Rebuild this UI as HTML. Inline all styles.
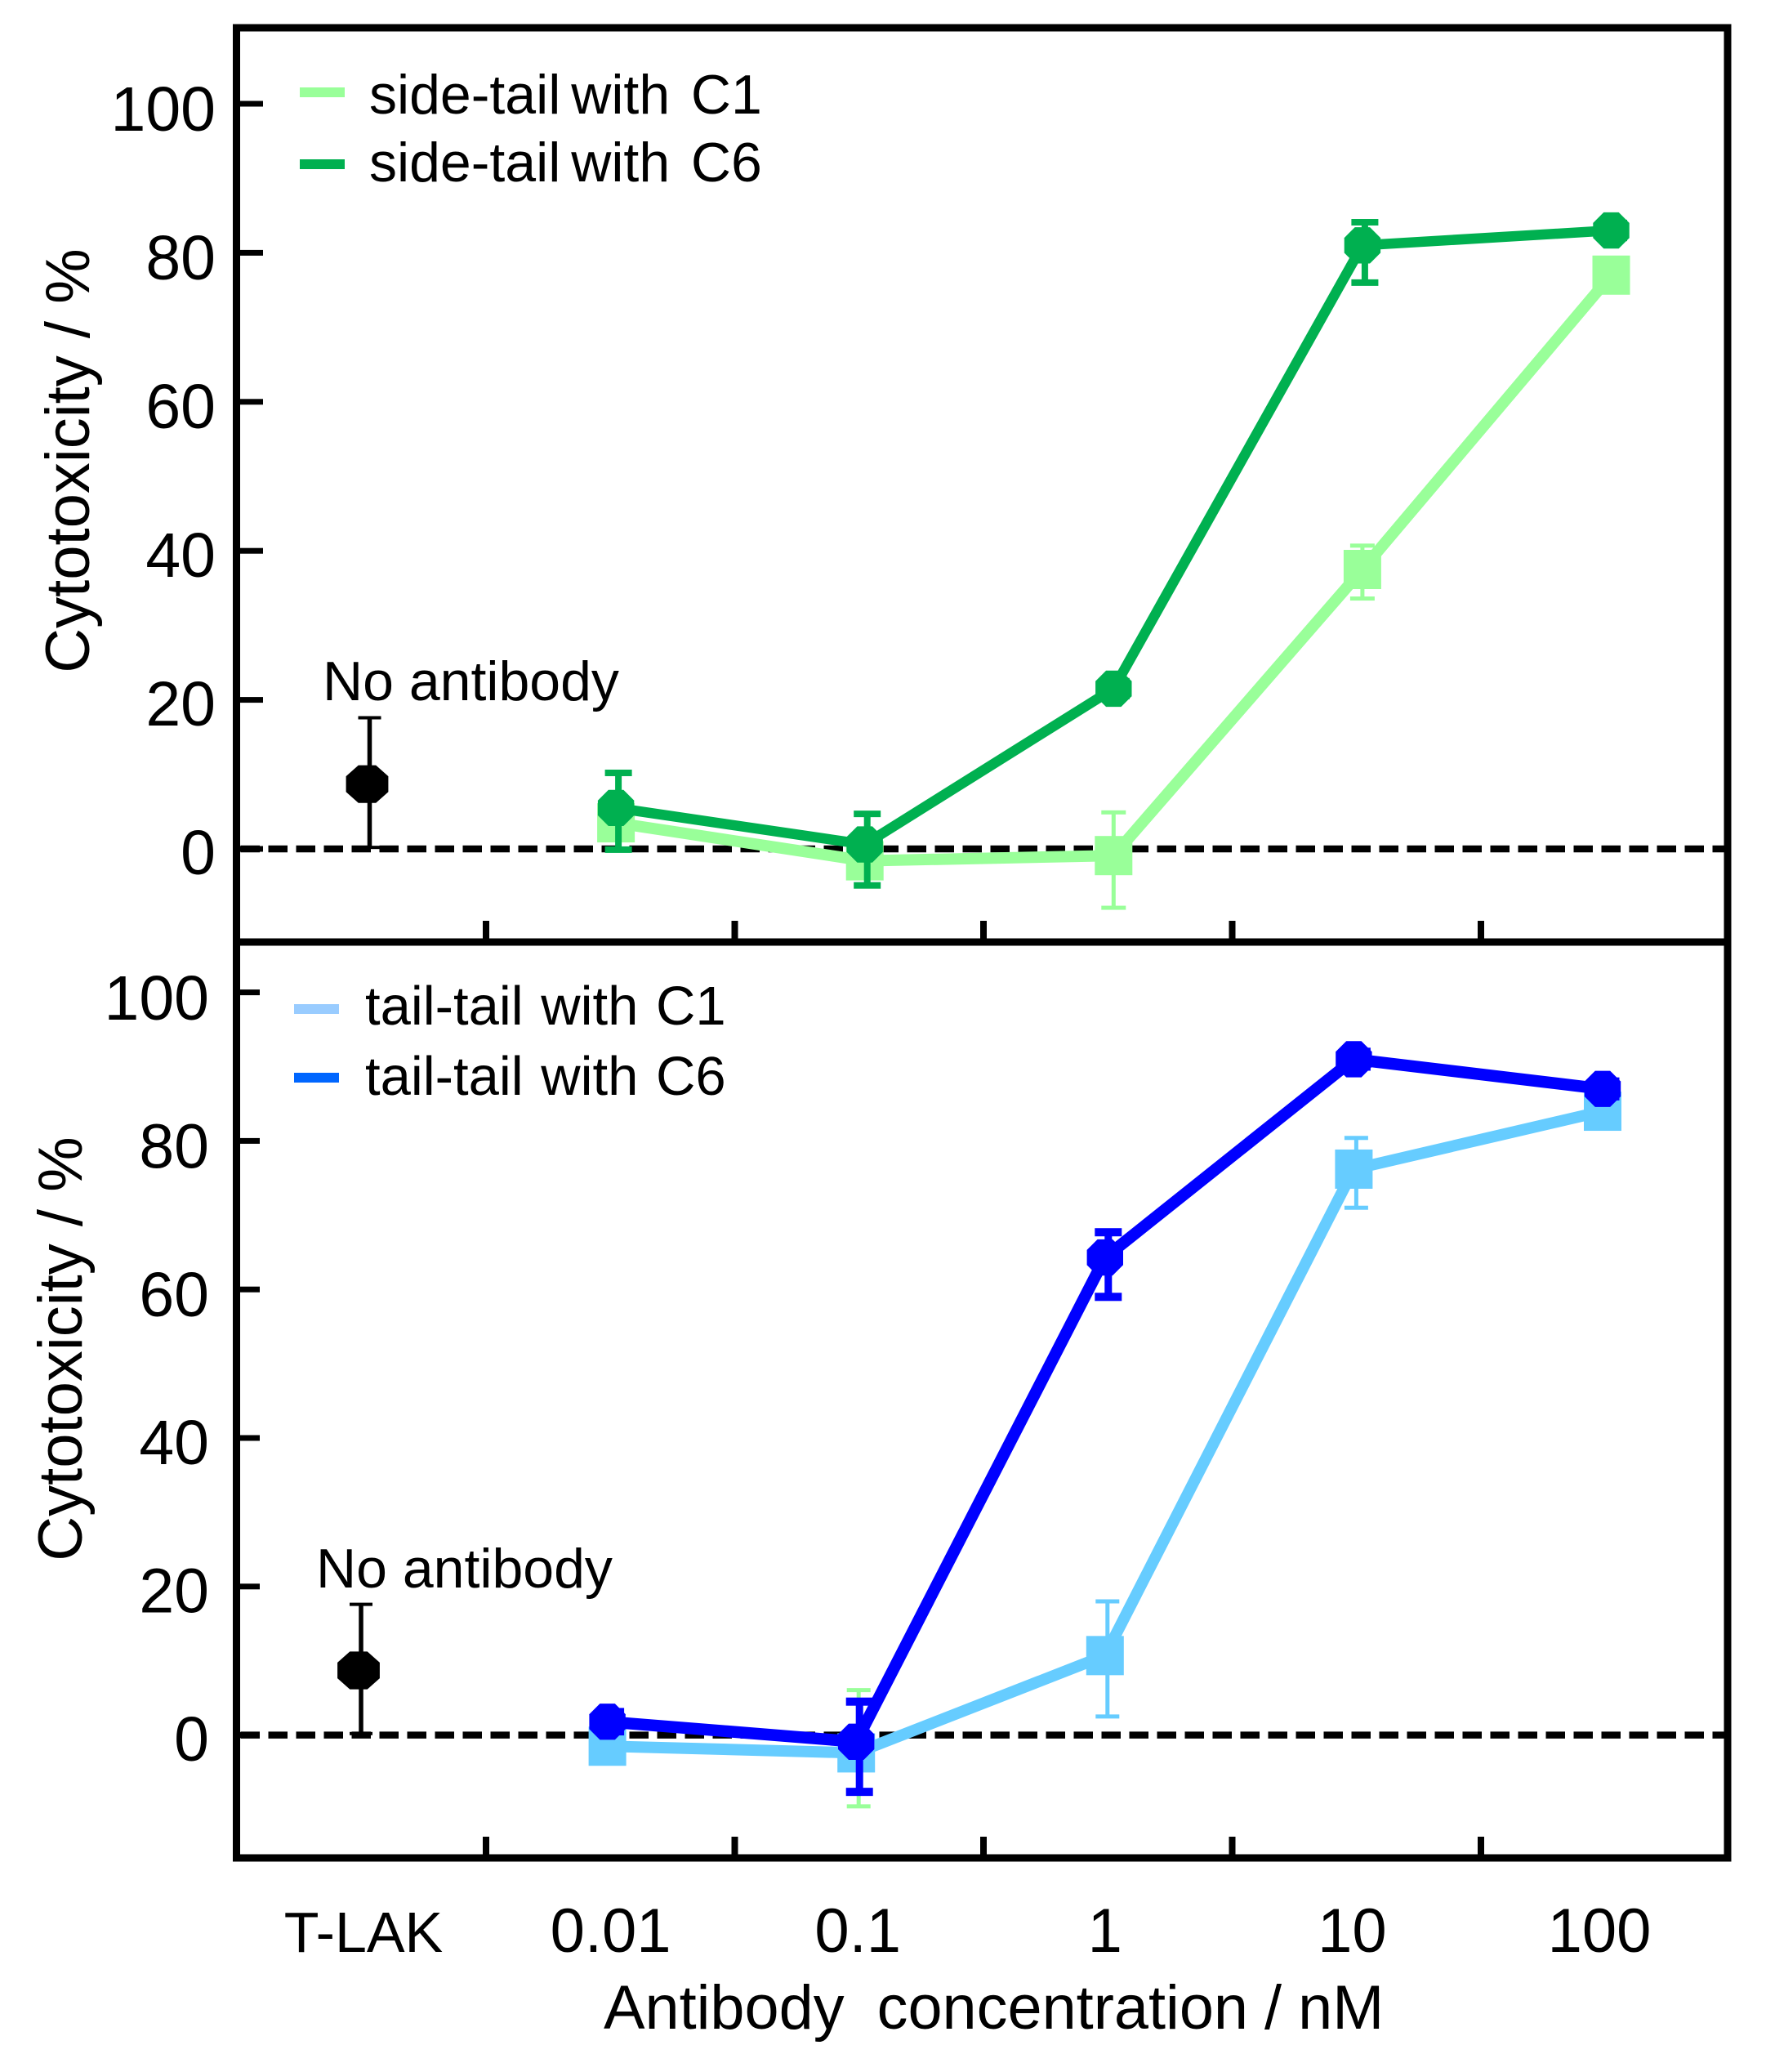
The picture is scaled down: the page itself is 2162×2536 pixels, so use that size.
<!DOCTYPE html>
<html lang="en">
<head>
<meta charset="utf-8">
<title>Cytotoxicity vs antibody concentration</title>
<style>
html,body{margin:0;padding:0;background:#fff;}
svg{display:block;}
text{font-family:"Liberation Sans",Arial,sans-serif;fill:#000;white-space:pre;}
</style>
</head>
<body>
<svg id="chart" xmlns="http://www.w3.org/2000/svg" width="2162" height="2536" viewBox="0 0 2162 2536">
  <rect x="0" y="0" width="2162" height="2536" fill="#fff"/>
  <g id="top-panel"></g>
  <g id="bottom-panel"></g>

  <g>
    <rect x="367" y="107" width="55" height="12" fill="#99ff99"/>
    <text x="452" y="139" font-size="68" word-spacing="-6">side-tail with  C1</text>
  </g>
  <g>
    <rect x="367" y="195" width="55" height="12" fill="#00b050"/>
    <text x="452" y="222" font-size="68" word-spacing="-6">side-tail with  C6</text>
  </g>
  <g>
    <rect x="360" y="1229" width="55" height="12" fill="#99ccff"/>
    <text x="447" y="1254" font-size="67" word-spacing="3">tail-tail with C1</text>
  </g>
  <g>
    <rect x="360" y="1313" width="55" height="12" fill="#0066ff"/>
    <text x="447" y="1340" font-size="67" word-spacing="3">tail-tail with C6</text>
  </g>

  <text font-size="76" text-anchor="middle" transform="translate(109 564) rotate(-90)">Cytotoxicity / %</text>
  <text font-size="76" text-anchor="middle" transform="translate(100 1651) rotate(-90)">Cytotoxicity / %</text>
  <text x="395" y="857" font-size="68">No antibody</text>
  <text x="387" y="1943" font-size="68">No antibody</text>
  <text x="739" y="2483" font-size="75.7" word-spacing="-1">Antibody  concentration / nM</text>
</svg>

<script>
const categories = ['T-LAK', '0.01', '0.1', '1', '10', '100'];
const yTickValues = [100, 80, 60, 40, 20, 0];
const xMinorTicks = [0, 1, 2, 3, 4];

const noAntibodyValue = [8.7];
const noAntibodyUpper = [17.6];
const noAntibodyLower = [0.2];

const sideC1Values = [3.5, -1.6, -0.9, 37.5, 77];
const sideC1Upper = [5.5, 0.5, 4.9, 40.7, 78];
const sideC1Lower = [1.5, -3.5, -7.9, 33.6, 76];

const sideC6Values = [5.5, 0.6, 21.5, 81, 83];
const sideC6Upper = [10.2, 4.7, 22.5, 84.1, 84];
const sideC6Lower = [-0.1, -4.9, 20.5, 76, 82];

const tailC1Values = [-1.5, -2.4, 10.7, 76.2, 84];
const tailC1Upper = [-0.5, 6.05, 18, 80.4, 85];
const tailC1Lower = [-2.5, -9.6, 2.5, 71, 83];

const tailC6Values = [1.8, -0.9, 64.3, 91, 87];
const tailC6Upper = [3.1, 4.5, 67.7, 92, 88];
const tailC6Lower = [0.5, -7.65, 59, 90, 86];

const NS = 'http://www.w3.org/2000/svg';

function make(parent, tag, attrs) {
  const el = document.createElementNS(NS, tag);
  for (const k in attrs) el.setAttribute(k, attrs[k]);
  parent.appendChild(el);
  return el;
}

function octagon(cx, cy, rx, ry) {
  const pts = [];
  for (let i = 0; i < 8; i++) {
    const a = Math.PI / 8 + i * Math.PI / 4;
    pts.push((cx + rx * Math.cos(a)).toFixed(1) + ',' + (cy + ry * Math.sin(a)).toFixed(1));
  }
  return pts.join(' ');
}

function drawErrorBar(g, prefix, x, top, bottom, color, stem, capW, capH) {
  const v = make(g, 'rect', { x: x - stem / 2, y: top, width: stem, height: bottom - top, fill: color });
  
  
  const c1 = make(g, 'rect', { x: x - capW / 2, y: top - capH / 2, width: capW, height: capH, fill: color });
  
  
  const c2 = make(g, 'rect', { x: x - capW / 2, y: bottom - capH / 2, width: capW, height: capH, fill: color });
  
  
}

function drawSeries(g, P, name, values, upper, lower, opt) {
  const group = make(g, 'g', {});
  
  
  values.forEach(function (v, i) {
    const col = opt.errColors ? opt.errColors[i] : opt.color;
    drawErrorBar(group, name + '-' + categories[i + 1], P.x(i + 1) + opt.errDx, P.y(upper[i]), P.y(lower[i]), col, opt.stem, opt.capW, opt.capH);
  });
  const line = make(group, 'polyline', {
    points: values.map(function (v, i) { return P.x(i + 1) + ',' + P.y(v); }).join(' '),
    fill: 'none', stroke: opt.color, 'stroke-width': opt.width, 'stroke-linejoin': 'miter'
  });
  
  
  values.forEach(function (v, i) {
    const cx = P.x(i + 1);
    const cy = P.y(v);
    let m;
    if (opt.marker === 'square') {
      m = make(group, 'rect', { x: cx - 23, y: cy - 24, width: 46, height: 48, fill: opt.color });
    } else {
      m = make(group, 'polygon', { points: octagon(cx, cy, 24, 24), fill: opt.color });
    }
    
    
  });
}

function drawPanel(g, P, frameTop, frameBottom, tickEnd) {
  const left = 289.5, right = 2115;

  const zero = make(g, 'line', { x1: left + 5, x2: right - 4, y1: P.y(0), y2: P.y(0), stroke: '#000', 'stroke-width': 8.5, 'stroke-dasharray': '23.5 10.5' });
  
  

  const frame = make(g, 'rect', { x: left, y: frameTop, width: right - left, height: frameBottom - frameTop, fill: 'none', stroke: '#000', 'stroke-width': 9 });
  
  

  yTickValues.forEach(function (v) {
    const t = make(g, 'rect', { x: left, y: P.y(v) - 3.5, width: tickEnd - left, height: 7, fill: '#000' });
    
    
    const l = make(g, 'text', { x: P.labelRight, y: P.labelY(v), 'font-size': 77, 'text-anchor': 'end' });
    
    
    l.textContent = String(v);
  });

  xMinorTicks.forEach(function (k) {
    const t = make(g, 'rect', { x: 591 + k * 304.5, y: frameBottom - 26, width: 8, height: 26, fill: '#000' });
    
    
  });

  const bx = P.x(0);
  drawErrorBar(g, 'no-antibody', bx + 3, P.y(noAntibodyUpper[0]), P.y(noAntibodyLower[0]), '#000', 5.5, 28, 4);
  const m = make(g, 'polygon', { points: octagon(bx, P.y(noAntibodyValue[0]), 28, 25), fill: '#000' });
  
  
}

const topP = {
  x: function (i) { return 449.5 + 304.6 * i; },
  y: function (v) { return 1039 - 9.12 * v; },
  labelY: function (v) { return 1070 - 9.1 * v; },
  labelRight: 264
};
const botP = {
  x: function (i) { return 439 + 304.6 * i; },
  y: function (v) { return 2123.6 - 9.09 * v; },
  labelY: function (v) { return 2155 - 9.07 * v; },
  labelRight: 256
};

const topG = document.getElementById('top-panel');
const botG = document.getElementById('bottom-panel');

drawPanel(topG, topP, 34, 1153, 322);
drawPanel(botG, botP, 1153, 2274, 318);

drawSeries(topG, topP, 'side-tail-c1', sideC1Values, sideC1Upper, sideC1Lower,
  { color: '#99ff99', width: 14, marker: 'square', errDx: 0, stem: 5, capW: 30, capH: 5 });
drawSeries(topG, topP, 'side-tail-c6', sideC6Values, sideC6Upper, sideC6Lower,
  { color: '#00b050', width: 12.5, marker: 'octagon', errDx: 3, stem: 8, capW: 33, capH: 8 });
drawSeries(botG, botP, 'tail-tail-c1', tailC1Values, tailC1Upper, tailC1Lower,
  { color: '#66ccff', width: 14, marker: 'square', errDx: 3, stem: 5, capW: 29, capH: 5,
    errColors: ['#66ccff', '#99ff99', '#66ccff', '#66ccff', '#66ccff'] });
drawSeries(botG, botP, 'tail-tail-c6', tailC6Values, tailC6Upper, tailC6Lower,
  { color: '#0000ff', width: 14.5, marker: 'octagon', errDx: 4, stem: 9, capW: 33, capH: 10 });

const svg = document.getElementById('chart');
categories.forEach(function (c, i) {
  const t = make(svg, 'text', { x: 445 + 302.6 * i, y: 2389, 'font-size': i === 0 ? 70 : 76, 'text-anchor': 'middle' });
  
  
  t.textContent = c;
});
</script>
</body>
</html>
